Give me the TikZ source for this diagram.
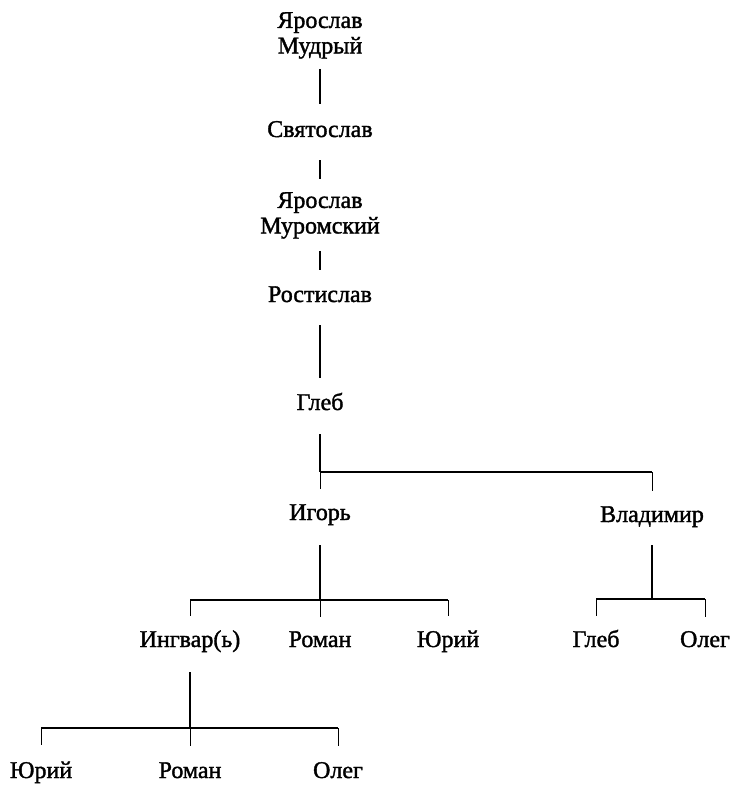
\documentclass[tikz,border=0pt]{standalone}
\usepackage{fontspec}
\setmainfont{Liberation Serif}
\newfontfamily\scanfont[FakeBold=1.5]{Liberation Serif}

\begin{document}
\begin{tikzpicture}[x=1pt, y=-1pt,
    person/.style={inner sep=0pt, font=\scanfont\fontsize{24}{26}\selectfont, anchor=base},
    pair/.style={inner sep=0pt, font=\scanfont\fontsize{24}{25.5}\selectfont, align=center, anchor=north},
    stem/.style={line width=1.5pt},
    bar/.style={line width=1.6pt},
    tick/.style={line width=0.9pt}]
    \useasboundingbox (0,0) rectangle (736,786);

    % Draw nodes
    \node[pair] (yarm) at (320,12) {Ярослав\\Мудрый};
    \node[person] (svyat) at (320,137) {Святослав};
    \node[pair] (yarmur) at (320,192) {Ярослав\\Муромский};
    \node[person] (rost) at (320,302) {Ростислав};
    \node[person] (gleb) at (320,410) {Глеб};
    \node[person] (igor) at (320,520) {Игорь};
    \node[person] (vlad) at (652,522) {Владимир};
    \node[person] (ingvar) at (190,647) {Ингвар(ь)};
    \node[person] (roman) at (320,647) {Роман};
    \node[person] (yuri) at (448,647) {Юрий};
    \node[person] (glebv) at (596,647) {Глеб};
    \node[person] (olegv) at (705,647) {Олег};
    \node[person] (yurin) at (41,778) {Юрий};
    \node[person] (romann) at (190,778) {Роман};
    \node[person] (olegn) at (338,778) {Олег};

    % Draw connections
    \draw[stem, shorten <=10pt, shorten >=17pt] (yarm) -- (svyat);
    \draw[stem, shorten <=23pt, shorten >=13pt] (svyat) -- (yarmur);
    \draw[stem, shorten <=12pt, shorten >=16pt] (yarmur) -- (rost);
    \draw[stem, shorten <=23pt, shorten >=15pt] (rost) -- (gleb);

    % Gleb's sons
    \coordinate (gj) at (320,472);
    \draw[stem, shorten <=24pt] (gleb) -- (gj);
    \draw[bar] (gj) -- (gj -| vlad);
    \draw[tick, shorten >=15pt] (gj) -- (igor);
    \draw[tick, shorten >=15pt] (gj -| vlad) -- (vlad);

    % Igor's sons
    \coordinate (ij) at (320,600);
    \draw[stem, shorten <=20pt] (igor) -- (ij);
    \draw[bar] (ij -| ingvar) -- (ij -| yuri);
    \foreach \c in {ingvar, roman, yuri}
        \draw[tick, shorten >=14pt] (ij -| \c) -- (\c);

    % Vladimir's sons
    \coordinate (vj) at (652,599);
    \draw[stem, shorten <=18pt] (vlad) -- (vj);
    \draw[bar] (vj -| glebv) -- (vj -| olegv);
    \foreach \c in {glebv, olegv}
        \draw[tick, shorten >=14pt] (vj -| \c) -- (\c);

    % Ingvar's sons
    \coordinate (nj) at (190,728);
    \draw[stem, shorten <=20pt] (ingvar) -- (nj);
    \draw[bar] (nj -| yurin) -- (nj -| olegn);
    \foreach \c in {yurin, romann, olegn}
        \draw[tick, shorten >=16pt] (nj -| \c) -- (\c);
\end{tikzpicture}
\end{document}
